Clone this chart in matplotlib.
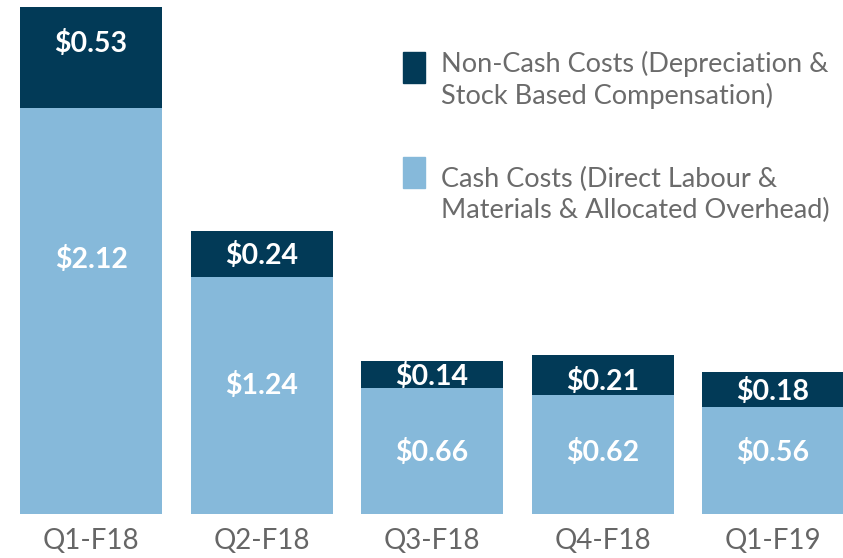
import matplotlib
matplotlib.use('Agg')
from matplotlib import pyplot as plt
from matplotlib.patches import Rectangle
import numpy as np

plt.rcParams['font.family'] = ['Lato', 'DejaVu Sans']

quarters = ['Q1-F18', 'Q2-F18', 'Q3-F18', 'Q4-F18', 'Q1-F19']
cash = [2.12, 1.24, 0.66, 0.62, 0.56]
non_cash = [0.53, 0.24, 0.14, 0.21, 0.18]

# where the white value labels sit (data units)
cash_label_y = [1.33, 0.67, 0.32, 0.32, 0.32]
non_cash_label_y = [2.46, 1.35, 0.72, 0.695, 0.64]

dark = '#023a57'
light = '#86b9da'
grey = '#666666'

fig = plt.figure(figsize=(8.43, 5.58), dpi=100)
ax = fig.add_axes([0, 44 / 558, 1, 1 - 44 / 558])

x = np.arange(len(quarters))
ax.bar(x, cash, width=0.833, color=light)
ax.bar(x, non_cash, width=0.833, bottom=cash, color=dark)

for i in range(len(quarters)):
    ax.text(x[i], cash_label_y[i], '$%.2f' % cash[i], color='white', fontsize=20.5,
            fontweight='bold', ha='center', va='center')
    ax.text(x[i], non_cash_label_y[i], '$%.2f' % non_cash[i], color='white', fontsize=20.5,
            fontweight='bold', ha='center', va='center')

ax.set_xlim(-0.534, 4.41)
ax.set_ylim(0, 2.687)
ax.set_xticks(x)
ax.set_xticklabels(quarters, fontsize=20, color=grey)
ax.tick_params(axis='x', length=0, pad=10)
ax.set_yticks([])
for s in ax.spines.values():
    s.set_visible(False)

# legend drawn by hand
W, H = 843, 558
fig.patches.append(Rectangle((403 / W, 1 - 83 / H), 22 / W, 31 / H, color=dark,
                             transform=fig.transFigure))
fig.patches.append(Rectangle((403 / W, 1 - 188 / H), 22 / W, 31 / H, color=light,
                             transform=fig.transFigure))
fig.text(441 / W, 1 - 80 / H, 'Non-Cash Costs (Depreciation &\nStock Based Compensation)',
         fontsize=19.5, color='#6b6b6b', va='center', ha='left', linespacing=1.3)
fig.text(441 / W, 1 - 195 / H, 'Cash Costs (Direct Labour &\nMaterials & Allocated Overhead)',
         fontsize=19.5, color='#6b6b6b', va='center', ha='left', linespacing=1.3)

fig.savefig('out.png', dpi=100)
